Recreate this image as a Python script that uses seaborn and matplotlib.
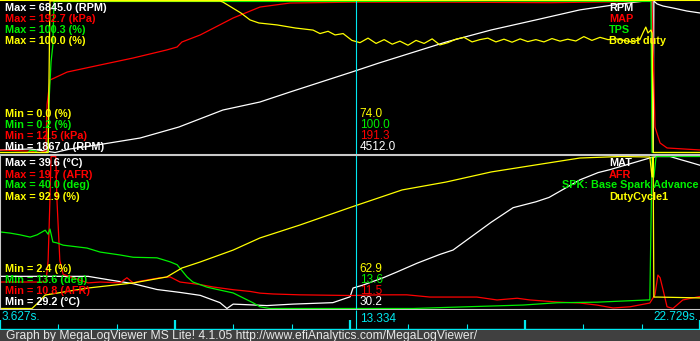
import numpy as np
import pandas as pd
import matplotlib
matplotlib.use("Agg")
import matplotlib.pyplot as plt
import seaborn as sns

# ---------------- data ----------------
T_START, T_END = 3.627, 22.729
CURSOR_T = 13.334

# upper panel
rpm_t = [3.63, 4.45, 4.86, 5.13, 5.54, 6.44, 7.45, 8.51, 9.71, 10.72, 11.54, 13.23, 13.97,
         15.80, 17.03, 18.25, 19.45, 20.55, 21.23, 21.42, 21.45, 21.47, 21.56, 21.72, 21.99,
         22.37, 22.73]
rpm_v = [1949, 1982, 1916, 1867, 1982, 2146, 2343, 2705, 3263, 3526, 3854, 4512, 4808,
         5497, 5893, 6223, 6553, 6747, 6845, 6845, 1867, 6845, 6747, 6680, 6616,
         6516, 6451]

map_t = [3.63, 4.45, 4.72, 4.88, 4.91, 4.99, 5.46, 6.36, 7.26, 8.18, 8.46, 8.59, 9.09, 9.99,
         10.72, 11.54, 13.23, 15.91, 18.64, 21.23, 21.42, 21.50, 21.64, 21.83, 22.73]
map_v = [15.5, 14.0, 12.5, 14.5, 69.0, 98.7, 108.2, 116.6, 124.9, 134.5, 138.0, 143.9, 152.3,
         172.5, 185.5, 190.3, 191.3, 191.3, 190.7, 192.2, 192.7, 42.8, 23.8, 17.9, 15.5]

tps_t = [3.63, 4.39, 4.45, 4.58, 4.64, 4.94, 4.96, 5.02, 5.07, 5.10, 13.23, 17.03, 21.36,
         21.39, 21.42, 22.73]
tps_v = [0.2, 0.2, 1.5, 1.5, 0.2, 0.2, 31.6, 60.0, 71.3, 100.0, 100.0, 100.3, 100.0,
         100.0, 0.2, 0.2]

boost_t = [3.63, 4.94, 4.99, 9.63, 9.71, 10.20, 10.45, 10.69, 11.19, 11.68, 12.17, 12.36,
           12.58, 12.77, 12.99,
           13.23, 13.45, 13.67, 13.89, 14.11, 14.33, 14.54, 14.76, 14.98, 15.20, 15.42,
           15.63, 15.85, 16.07, 16.29, 16.51, 16.72, 16.94, 17.16, 17.38, 17.60, 17.82,
           18.03, 18.25, 18.47, 18.69, 18.91, 19.12, 19.34, 19.56, 19.78, 20.00, 20.22,
           20.43, 20.65, 20.87, 21.09,
           21.17, 21.25, 21.31, 21.39, 21.42, 21.45, 22.73]
boost_v = [0.0, 0.0, 100.0, 100.0, 99.3, 92.1, 87.5, 85.5, 84.2, 82.2, 80.8, 78.5,
           80.0, 77.6, 78.5,
           74.0, 72.5, 75.5, 72.0, 74.5, 71.5, 73.5, 70.8, 74.0, 72.0, 75.0,
           71.0, 72.5, 74.8, 76.0, 73.0, 74.5, 75.5, 73.0, 74.8, 72.8, 75.0,
           73.2, 74.5, 73.0, 75.2, 73.5, 74.8, 73.6, 76.5, 74.0, 76.0, 74.5,
           75.0, 74.0, 73.0, 74.5,
           78.9, 82.8, 78.9, 80.8, 78.9, 0.0, 0.0]

# lower panel
mat_t = [3.63, 6.03, 6.63, 7.26, 7.91, 8.54, 9.09, 9.63, 9.82, 9.99, 10.91, 11.62, 12.71,
         13.18, 13.26, 13.53, 14.08, 14.46, 15.01, 15.63, 15.99, 17.03, 17.63, 18.25,
         18.61, 18.96, 19.45, 19.95, 20.27, 21.36, 21.56, 21.91, 22.18, 22.46, 22.73]
mat_v = [31.4, 31.4, 31.15, 30.9, 30.5, 30.3, 30.1, 29.6, 29.2, 29.5, 29.4, 29.5, 29.6,
         30.0, 30.6, 30.8, 31.3, 31.7, 32.3, 32.9, 33.2, 35.1, 36.1, 36.5,
         36.8, 37.3, 38.0, 38.5, 38.7, 39.5, 39.6, 39.6, 39.4, 39.2, 39.0]

afr_t = [3.63, 4.88, 4.94, 4.99, 5.02, 5.15, 5.18, 5.26, 5.35, 6.03, 6.36, 6.90, 7.09, 7.26,
         7.45, 7.99, 8.27, 8.54, 9.09, 9.44, 9.99, 10.45, 10.72, 11.08, 11.81, 13.21, 14.00,
         14.73, 15.36, 16.64, 17.19, 17.74, 18.09, 18.83, 19.45, 19.92, 20.36, 20.82,
         21.36, 21.50, 21.58, 21.64, 21.72, 21.83, 21.99, 22.26, 22.65, 22.73]
afr_v = [12.35, 12.35, 13.6, 17.2, 19.7, 19.7, 17.2, 13.6, 12.8, 12.3, 12.35, 12.3, 12.6, 12.3,
         12.4, 12.6, 12.65, 12.35, 12.2, 12.06, 11.9, 11.8, 11.7, 11.65, 11.6, 11.56, 11.6,
         11.6, 11.47, 11.47, 11.3, 11.4, 11.3, 11.18, 11.12, 11.0, 10.83, 10.9,
         11.12, 11.6, 12.76, 12.6, 11.9, 10.9, 10.8, 11.3, 11.47, 11.5]

spk_t = [3.63, 3.90, 4.17, 4.45, 4.64, 4.86, 4.94, 4.99, 5.07, 5.18, 5.35, 6.00, 6.36, 6.90,
         7.26, 7.91, 8.27, 8.46, 8.73, 8.89, 9.28, 9.63, 9.99, 10.53, 10.72, 10.99, 14.90,
         16.37, 17.90, 18.83, 19.92, 21.36, 21.42, 21.47, 21.53, 22.73]
spk_v = [26.9, 26.7, 26.4, 26.0, 26.4, 27.2, 26.5, 27.4, 25.15, 25.0, 24.6, 24.1, 23.4, 22.9,
         22.5, 22.4, 21.7, 21.2, 19.1, 18.2, 17.3, 16.8, 16.3, 14.6, 13.9, 13.6, 13.6,
         13.9, 14.2, 14.6, 14.7, 15.1, 40.0, 36.4, 40.0, 40.0]

duty_t = [3.63, 4.50, 4.66, 4.86, 6.03, 7.26, 8.18, 8.59, 9.09, 9.99, 10.72, 11.81, 13.23,
          14.60, 15.80, 17.03, 18.25, 19.45, 20.55, 21.36, 21.42, 21.45, 21.47, 21.58, 22.73]
duty_v = [2.4, 2.4, 5.7, 10.4, 14.6, 17.6, 21.2, 26.5, 30.1, 37.2, 44.4, 52.1, 62.9,
          73.0, 77.7, 83.7, 87.9, 92.0, 92.9, 92.6, 80.7, 92.6, 9.2, 9.2, 8.7]

upper_names = ["RPM", "MAP", "TPS", "Boost duty"]
upper_units = ["RPM", "kPa", "%", "%"]
upper_cursor = ["4512.0", "191.3", "100.0", "74.0"]

lower_names = ["MAT", "AFR", "SPK: Base Spark Advance", "DutyCycle1"]
lower_units = ["°C", "AFR", "deg", "%"]
lower_cursor = ["30.2", "11.5", "13.6", "62.9"]

footer = "Graph by MegaLogViewer MS Lite! 4.1.05 http://www.efiAnalytics.com/MegaLogViewer/"

COLORS = ["#ffffff", "#ff0000", "#00f000", "#ffff00"]
CYAN = "#00e8f0"

# ---------------- figure ----------------
sns.set_style("dark", {"axes.facecolor": "black", "figure.facecolor": "black"})
plt.rcParams['font.family'] = ['Liberation Sans', 'DejaVu Sans']

W, H = 700, 341
fig = plt.figure(figsize=(W / 100, H / 100), dpi=100, facecolor="black")


def px_axes(top, bottom, left=0, right=W):
    ax = fig.add_axes([left / W, 1 - bottom / H, (right - left) / W, (bottom - top) / H])
    ax.set_facecolor("black")
    ax.set_xticks([]); ax.set_yticks([])
    for s in ax.spines.values():
        s.set_visible(False)
    return ax


def ftxt(x, y, s, color, bold=False, size=7.8, ha="left"):
    fig.text(x / W, 1 - y / H, s, color=color, fontsize=size, ha=ha, va="baseline",
             fontweight="bold" if bold else "normal")


def draw_panel(ax, series, names, ylim):
    frames = []
    stats = []
    for (t, v), name in zip(series, names):
        t = np.asarray(t, float); v = np.asarray(v, float)
        lo, hi = v.min(), v.max()
        stats.append((lo, hi))
        frames.append(pd.DataFrame({"time": t, "norm": (v - lo) / (hi - lo), "series": name}))
    df = pd.concat(frames, ignore_index=True)
    sns.lineplot(data=df, x="time", y="norm", hue="series", hue_order=names,
                 palette=dict(zip(names, COLORS)), estimator=None, legend=False,
                 lw=0.9, ax=ax)
    ax.axvline(CURSOR_T, color=CYAN, lw=0.8)
    ax.set_xlim(T_START, T_END)
    ax.set_ylim(*ylim)
    ax.set_xlabel(""); ax.set_ylabel("")
    ax.set_xticks([]); ax.set_yticks([])
    return stats


ax_up = px_axes(0, 154)
ax_lo = px_axes(155, 310)
ax_t = px_axes(310, 330)
ax_b = px_axes(330, 341)

up_stats = draw_panel(ax_up, [(rpm_t, rpm_v), (map_t, map_v), (tps_t, tps_v),
                              (boost_t, boost_v)], upper_names, (-0.0099, 1.0066))
lo_stats = draw_panel(ax_lo, [(mat_t, mat_v), (afr_t, afr_v), (spk_t, spk_v),
                              (duty_t, duty_v)], lower_names, (-0.0099, 1.0099))

ax_up.spines["top"].set_visible(True)
ax_up.spines["top"].set_color("#ffff00")
ax_up.spines["top"].set_linewidth(1.5)
for side in ["top", "bottom", "left"]:
    ax_lo.spines[side].set_visible(True)
    ax_lo.spines[side].set_color("#c8c8c8")
    ax_lo.spines[side].set_linewidth(1.5)

# labels
cursor_px = (CURSOR_T - T_START) / (T_END - T_START) * W
for panel_stats, units, names, cursor_vals, max_base, min_base in [
        (up_stats, upper_units, upper_names, upper_cursor, [11, 22, 33, 44], [150, 139, 127.7, 116.7]),
        (lo_stats, lower_units, lower_names, lower_cursor, [166.5, 177.5, 188.5, 199.5], [305, 294, 283, 272])]:
    for i, ((lo, hi), unit, name, cv) in enumerate(zip(panel_stats, units, names, cursor_vals)):
        ftxt(5, max_base[i], f"Max = {hi:.1f} ({unit})", COLORS[i], bold=True)
        ftxt(5, min_base[i], f"Min = {lo:.1f} ({unit})", COLORS[i], bold=True)
        ftxt(cursor_px + 4, min_base[i], cv, COLORS[i], size=8.5)
        if len(name) > 12:
            ftxt(698, max_base[i], name, COLORS[i], bold=True, ha="right")
        else:
            ftxt(609, max_base[i], name, COLORS[i], bold=True)

# time strip
ax_t.set_xlim(T_START, T_END)
ax_t.set_ylim(330, 310)
ticks = np.linspace(T_START, T_END, 13)
for k, tk in enumerate(ticks):
    if k % 3 == 0:
        ax_t.vlines(tk, 320, 329, color=CYAN, lw=1.6)
    else:
        ax_t.vlines(tk, 324, 329, color=CYAN, lw=0.8)
ax_t.vlines(CURSOR_T, 310, 329, color=CYAN, lw=0.8)
ax_t.axhline(329, color=CYAN, lw=1.0)
ftxt(2, 320, f"{T_START:.3f}s.", CYAN, size=8.5)
ftxt(cursor_px + 4, 322, f"{CURSOR_T:.3f}", CYAN, size=8.5)
ftxt(698, 320, f"{T_END:.3f}s.", CYAN, size=8.5, ha="right")

# footer
ax_b.set_facecolor("#404040")
ftxt(6, 339.5, footer, "#e8e8e8", size=8.7)

fig.savefig("out.png", dpi=100, facecolor="black")
